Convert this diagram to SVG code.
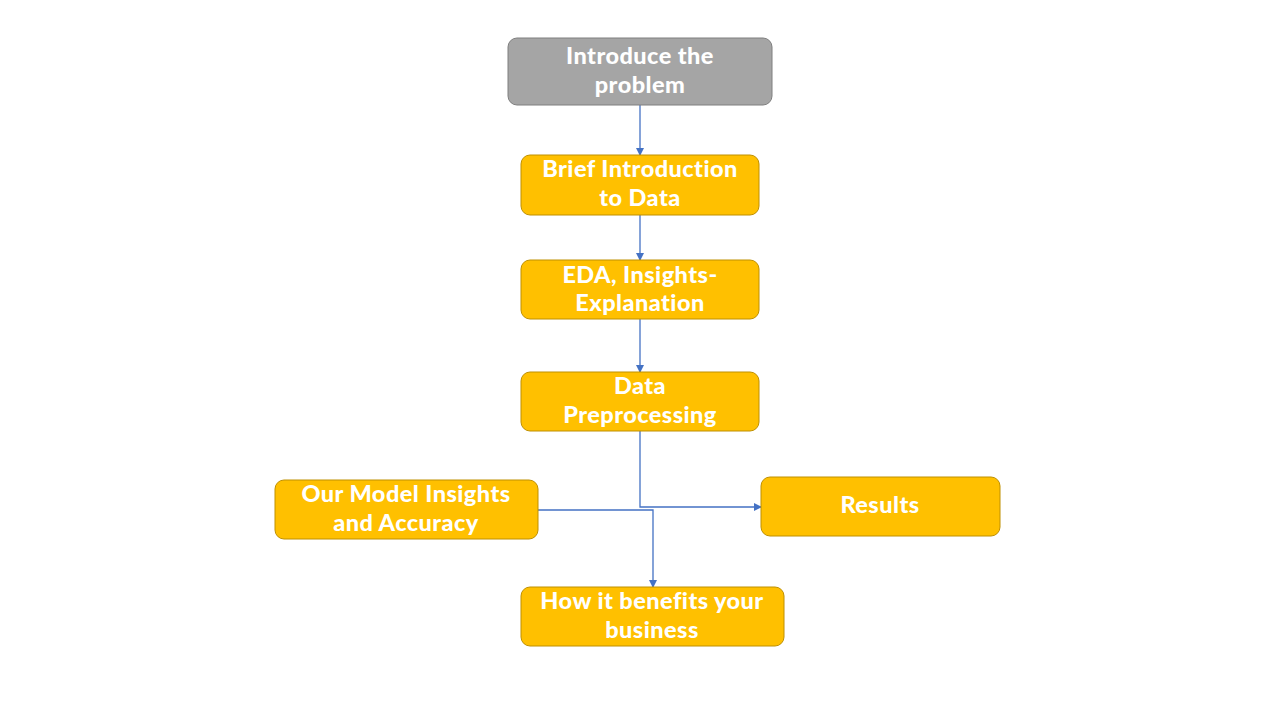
<svg xmlns="http://www.w3.org/2000/svg" width="1280" height="720" viewBox="0 0 1280 720">
<style>
.box{fill:#FFC000;stroke:#BF9000;stroke-width:1}
.gray{fill:#A5A5A5;stroke:#7F7F7F;stroke-width:1}
.t{font-family:Lato,"Open Sans",sans-serif;font-weight:900;font-size:23.5px;letter-spacing:0.45px;fill:#FFFFFF;text-anchor:middle;font-variant-ligatures:none}
.c{fill:none;stroke:#4472C4;stroke-width:1.3}
</style>
<defs>
<marker id="ah" markerWidth="8" markerHeight="8" refX="7" refY="4" orient="auto" markerUnits="userSpaceOnUse">
<path d="M0,0 L8,4 L0,8 z" fill="#4472C4"/>
</marker>
</defs>
<rect width="1280" height="720" fill="#FFFFFF"/>
<g id="connectors">
<line class="c" x1="640" y1="105" x2="640" y2="155" marker-end="url(#ah)"/>
<line class="c" x1="640" y1="215" x2="640" y2="260" marker-end="url(#ah)"/>
<line class="c" x1="640" y1="319" x2="640" y2="372" marker-end="url(#ah)"/>
<polyline class="c" points="640,431 640,507 761,507" marker-end="url(#ah)"/>
<polyline class="c" points="538,510 653,510 653,587" marker-end="url(#ah)"/>
</g>
<g id="n1">
<rect class="gray" x="508" y="38" width="264" height="67" rx="9"/>
<text class="t" x="640" y="64">Introduce the</text>
<text class="t" x="640" y="93">problem</text>
</g>
<g id="n2">
<rect class="box" x="521" y="155" width="238" height="60" rx="9"/>
<text class="t" x="640" y="177">Brief Introduction</text>
<text class="t" x="640" y="206">to Data</text>
</g>
<g id="n3">
<rect class="box" x="521" y="260" width="238" height="59" rx="9"/>
<text class="t" x="640" y="283">EDA, Insights-</text>
<text class="t" x="640" y="311">Explanation</text>
</g>
<g id="n4">
<rect class="box" x="521" y="372" width="238" height="59" rx="9"/>
<text class="t" x="640" y="394">Data</text>
<text class="t" x="640" y="423">Preprocessing</text>
</g>
<g id="n5">
<rect class="box" x="275" y="480" width="263" height="59" rx="9"/>
<text class="t" x="406" y="502">Our Model Insights</text>
<text class="t" x="406" y="531">and Accuracy</text>
</g>
<g id="n6">
<rect class="box" x="761" y="477" width="239" height="59" rx="9"/>
<text class="t" x="880" y="513">Results</text>
</g>
<g id="n7">
<rect class="box" x="521" y="587" width="263" height="59" rx="9"/>
<text class="t" x="652" y="609">How it benefits your</text>
<text class="t" x="652" y="638">business</text>
</g>
</svg>
